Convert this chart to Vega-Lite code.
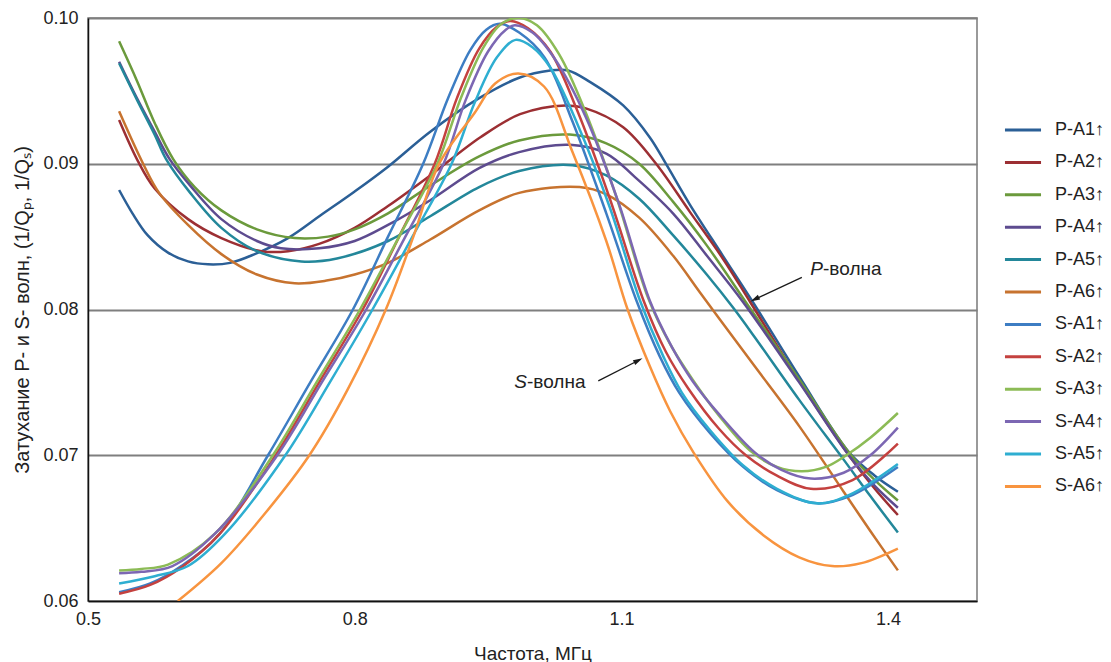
{
  "$schema": "https://vega.github.io/schema/vega-lite/v6.json",
  "width": 889,
  "height": 583,
  "autosize": {"type": "none"},
  "padding": {"left": 88, "top": 18, "right": 134, "bottom": 61},
  "background": "white",
  "config": {
    "font": "Liberation Sans",
    "view": {"stroke": "#7a7a7a", "strokeWidth": 1.5}
  },
  "datasets": {
    "curves": [
      {"s":"P-A1↑","f":0.535,"v":0.0882},{"s":"P-A1↑","f":0.55,"v":0.0866},{"s":"P-A1↑","f":0.567,"v":0.0851},{"s":"P-A1↑","f":0.59,"v":0.0839},{"s":"P-A1↑","f":0.6125,"v":0.0833},{"s":"P-A1↑","f":0.635,"v":0.0831},{"s":"P-A1↑","f":0.66,"v":0.0832},{"s":"P-A1↑","f":0.6875,"v":0.0838},{"s":"P-A1↑","f":0.725,"v":0.0849},{"s":"P-A1↑","f":0.7625,"v":0.0865},{"s":"P-A1↑","f":0.8,"v":0.0881},{"s":"P-A1↑","f":0.8375,"v":0.0898},{"s":"P-A1↑","f":0.885,"v":0.0922},{"s":"P-A1↑","f":0.94,"v":0.0945},{"s":"P-A1↑","f":0.985,"v":0.0959},{"s":"P-A1↑","f":1.02,"v":0.0964},{"s":"P-A1↑","f":1.04,"v":0.0964},{"s":"P-A1↑","f":1.065,"v":0.0956},{"s":"P-A1↑","f":1.102,"v":0.0940},{"s":"P-A1↑","f":1.132,"v":0.0918},{"s":"P-A1↑","f":1.151,"v":0.0899},{"s":"P-A1↑","f":1.177,"v":0.0872},{"s":"P-A1↑","f":1.214,"v":0.0837},{"s":"P-A1↑","f":1.248,"v":0.0805},{"s":"P-A1↑","f":1.3,"v":0.0754},{"s":"P-A1↑","f":1.356,"v":0.0702},{"s":"P-A1↑","f":1.385,"v":0.0686},{"s":"P-A1↑","f":1.411,"v":0.0675},

      {"s":"P-A2↑","f":0.535,"v":0.0930},{"s":"P-A2↑","f":0.556,"v":0.0902},{"s":"P-A2↑","f":0.575,"v":0.0883},{"s":"P-A2↑","f":0.6125,"v":0.0862},{"s":"P-A2↑","f":0.65,"v":0.0849},{"s":"P-A2↑","f":0.695,"v":0.0840},{"s":"P-A2↑","f":0.725,"v":0.0840},{"s":"P-A2↑","f":0.76,"v":0.0845},{"s":"P-A2↑","f":0.8,"v":0.0856},{"s":"P-A2↑","f":0.8375,"v":0.0871},{"s":"P-A2↑","f":0.885,"v":0.0892},{"s":"P-A2↑","f":0.941,"v":0.0918},{"s":"P-A2↑","f":0.986,"v":0.0934},{"s":"P-A2↑","f":1.037,"v":0.0940},{"s":"P-A2↑","f":1.06,"v":0.0938},{"s":"P-A2↑","f":1.102,"v":0.0925},{"s":"P-A2↑","f":1.139,"v":0.0900},{"s":"P-A2↑","f":1.177,"v":0.0867},{"s":"P-A2↑","f":1.214,"v":0.0835},{"s":"P-A2↑","f":1.245,"v":0.0805},{"s":"P-A2↑","f":1.3,"v":0.0751},{"s":"P-A2↑","f":1.357,"v":0.0699},{"s":"P-A2↑","f":1.385,"v":0.0677},{"s":"P-A2↑","f":1.411,"v":0.0659},

      {"s":"P-A3↑","f":0.535,"v":0.0984},{"s":"P-A3↑","f":0.555,"v":0.0957},{"s":"P-A3↑","f":0.575,"v":0.0928},{"s":"P-A3↑","f":0.596,"v":0.0903},{"s":"P-A3↑","f":0.62,"v":0.0884},{"s":"P-A3↑","f":0.65,"v":0.0868},{"s":"P-A3↑","f":0.69,"v":0.0855},{"s":"P-A3↑","f":0.7325,"v":0.0849},{"s":"P-A3↑","f":0.77,"v":0.0850},{"s":"P-A3↑","f":0.8,"v":0.0855},{"s":"P-A3↑","f":0.8375,"v":0.0866},{"s":"P-A3↑","f":0.885,"v":0.0885},{"s":"P-A3↑","f":0.94,"v":0.0905},{"s":"P-A3↑","f":0.985,"v":0.0916},{"s":"P-A3↑","f":1.042,"v":0.0920},{"s":"P-A3↑","f":1.083,"v":0.0914},{"s":"P-A3↑","f":1.12,"v":0.0900},{"s":"P-A3↑","f":1.158,"v":0.0874},{"s":"P-A3↑","f":1.196,"v":0.0844},{"s":"P-A3↑","f":1.24,"v":0.0805},{"s":"P-A3↑","f":1.3,"v":0.0752},{"s":"P-A3↑","f":1.357,"v":0.0701},{"s":"P-A3↑","f":1.385,"v":0.0683},{"s":"P-A3↑","f":1.411,"v":0.0669},

      {"s":"P-A4↑","f":0.535,"v":0.0970},{"s":"P-A4↑","f":0.555,"v":0.0945},{"s":"P-A4↑","f":0.575,"v":0.0922},{"s":"P-A4↑","f":0.592,"v":0.0903},{"s":"P-A4↑","f":0.615,"v":0.0885},{"s":"P-A4↑","f":0.65,"v":0.0862},{"s":"P-A4↑","f":0.69,"v":0.0847},{"s":"P-A4↑","f":0.717,"v":0.0842},{"s":"P-A4↑","f":0.76,"v":0.0842},{"s":"P-A4↑","f":0.8,"v":0.0847},{"s":"P-A4↑","f":0.8375,"v":0.0858},{"s":"P-A4↑","f":0.885,"v":0.0875},{"s":"P-A4↑","f":0.94,"v":0.0897},{"s":"P-A4↑","f":0.985,"v":0.0908},{"s":"P-A4↑","f":1.042,"v":0.0913},{"s":"P-A4↑","f":1.083,"v":0.0907},{"s":"P-A4↑","f":1.115,"v":0.0891},{"s":"P-A4↑","f":1.158,"v":0.0866},{"s":"P-A4↑","f":1.196,"v":0.0837},{"s":"P-A4↑","f":1.237,"v":0.0805},{"s":"P-A4↑","f":1.3,"v":0.0750},{"s":"P-A4↑","f":1.357,"v":0.0699},{"s":"P-A4↑","f":1.385,"v":0.0679},{"s":"P-A4↑","f":1.411,"v":0.0664},

      {"s":"P-A5↑","f":0.535,"v":0.0969},{"s":"P-A5↑","f":0.555,"v":0.0944},{"s":"P-A5↑","f":0.575,"v":0.0920},{"s":"P-A5↑","f":0.588,"v":0.0903},{"s":"P-A5↑","f":0.615,"v":0.0880},{"s":"P-A5↑","f":0.65,"v":0.0856},{"s":"P-A5↑","f":0.69,"v":0.0840},{"s":"P-A5↑","f":0.74,"v":0.0833},{"s":"P-A5↑","f":0.78,"v":0.0835},{"s":"P-A5↑","f":0.8375,"v":0.0847},{"s":"P-A5↑","f":0.885,"v":0.0864},{"s":"P-A5↑","f":0.94,"v":0.0884},{"s":"P-A5↑","f":0.985,"v":0.0895},{"s":"P-A5↑","f":1.045,"v":0.0899},{"s":"P-A5↑","f":1.083,"v":0.0892},{"s":"P-A5↑","f":1.12,"v":0.0876},{"s":"P-A5↑","f":1.158,"v":0.0851},{"s":"P-A5↑","f":1.196,"v":0.0824},{"s":"P-A5↑","f":1.226,"v":0.0801},{"s":"P-A5↑","f":1.25,"v":0.0781},{"s":"P-A5↑","f":1.3,"v":0.0738},{"s":"P-A5↑","f":1.35,"v":0.0697},{"s":"P-A5↑","f":1.38,"v":0.0672},{"s":"P-A5↑","f":1.411,"v":0.0647},

      {"s":"P-A6↑","f":0.535,"v":0.0936},{"s":"P-A6↑","f":0.562,"v":0.0900},{"s":"P-A6↑","f":0.58,"v":0.0880},{"s":"P-A6↑","f":0.6125,"v":0.0858},{"s":"P-A6↑","f":0.65,"v":0.0838},{"s":"P-A6↑","f":0.69,"v":0.0824},{"s":"P-A6↑","f":0.7325,"v":0.0818},{"s":"P-A6↑","f":0.77,"v":0.0820},{"s":"P-A6↑","f":0.8,"v":0.0824},{"s":"P-A6↑","f":0.8375,"v":0.0832},{"s":"P-A6↑","f":0.885,"v":0.0848},{"s":"P-A6↑","f":0.94,"v":0.0868},{"s":"P-A6↑","f":0.985,"v":0.0880},{"s":"P-A6↑","f":1.053,"v":0.0884},{"s":"P-A6↑","f":1.083,"v":0.0879},{"s":"P-A6↑","f":1.12,"v":0.0863},{"s":"P-A6↑","f":1.158,"v":0.0837},{"s":"P-A6↑","f":1.188,"v":0.0812},{"s":"P-A6↑","f":1.211,"v":0.0793},{"s":"P-A6↑","f":1.25,"v":0.0761},{"s":"P-A6↑","f":1.3,"v":0.0720},{"s":"P-A6↑","f":1.35,"v":0.0675},{"s":"P-A6↑","f":1.38,"v":0.0648},{"s":"P-A6↑","f":1.411,"v":0.0621},

      {"s":"S-A1↑","f":0.535,"v":0.0606},{"s":"S-A1↑","f":0.57,"v":0.0612},{"s":"S-A1↑","f":0.605,"v":0.0624},{"s":"S-A1↑","f":0.648,"v":0.0646},{"s":"S-A1↑","f":0.7025,"v":0.0700},{"s":"S-A1↑","f":0.75,"v":0.0750},{"s":"S-A1↑","f":0.798,"v":0.0800},{"s":"S-A1↑","f":0.8375,"v":0.0850},{"s":"S-A1↑","f":0.877,"v":0.0900},{"s":"S-A1↑","f":0.905,"v":0.0945},{"s":"S-A1↑","f":0.93,"v":0.0978},{"s":"S-A1↑","f":0.948,"v":0.0992},{"s":"S-A1↑","f":0.963,"v":0.0996},{"s":"S-A1↑","f":0.985,"v":0.0990},{"s":"S-A1↑","f":1.0135,"v":0.0973},{"s":"S-A1↑","f":1.045,"v":0.0929},{"s":"S-A1↑","f":1.083,"v":0.0866},{"s":"S-A1↑","f":1.117,"v":0.0806},{"s":"S-A1↑","f":1.143,"v":0.0768},{"s":"S-A1↑","f":1.165,"v":0.0743},{"s":"S-A1↑","f":1.2,"v":0.0715},{"s":"S-A1↑","f":1.237,"v":0.0692},{"s":"S-A1↑","f":1.275,"v":0.0676},{"s":"S-A1↑","f":1.32,"v":0.0667},{"s":"S-A1↑","f":1.357,"v":0.0672},{"s":"S-A1↑","f":1.411,"v":0.0692},

      {"s":"S-A2↑","f":0.535,"v":0.0605},{"s":"S-A2↑","f":0.57,"v":0.0611},{"s":"S-A2↑","f":0.605,"v":0.0623},{"s":"S-A2↑","f":0.648,"v":0.0646},{"s":"S-A2↑","f":0.711,"v":0.0700},{"s":"S-A2↑","f":0.76,"v":0.0750},{"s":"S-A2↑","f":0.809,"v":0.0800},{"s":"S-A2↑","f":0.85,"v":0.0850},{"s":"S-A2↑","f":0.89,"v":0.0900},{"s":"S-A2↑","f":0.915,"v":0.0945},{"s":"S-A2↑","f":0.94,"v":0.0979},{"s":"S-A2↑","f":0.96,"v":0.0994},{"s":"S-A2↑","f":0.975,"v":0.0998},{"s":"S-A2↑","f":0.995,"v":0.0993},{"s":"S-A2↑","f":1.02,"v":0.0977},{"s":"S-A2↑","f":1.05,"v":0.0937},{"s":"S-A2↑","f":1.087,"v":0.0876},{"s":"S-A2↑","f":1.125,"v":0.0806},{"s":"S-A2↑","f":1.15,"v":0.0771},{"s":"S-A2↑","f":1.175,"v":0.0746},{"s":"S-A2↑","f":1.21,"v":0.0718},{"s":"S-A2↑","f":1.24,"v":0.0700},{"s":"S-A2↑","f":1.275,"v":0.0686},{"s":"S-A2↑","f":1.313,"v":0.0677},{"s":"S-A2↑","f":1.36,"v":0.0683},{"s":"S-A2↑","f":1.411,"v":0.0708},

      {"s":"S-A3↑","f":0.535,"v":0.0621},{"s":"S-A3↑","f":0.56,"v":0.0622},{"s":"S-A3↑","f":0.59,"v":0.0625},{"s":"S-A3↑","f":0.6425,"v":0.0646},{"s":"S-A3↑","f":0.708,"v":0.0700},{"s":"S-A3↑","f":0.757,"v":0.0750},{"s":"S-A3↑","f":0.806,"v":0.0800},{"s":"S-A3↑","f":0.85,"v":0.0850},{"s":"S-A3↑","f":0.893,"v":0.0900},{"s":"S-A3↑","f":0.92,"v":0.0946},{"s":"S-A3↑","f":0.945,"v":0.0980},{"s":"S-A3↑","f":0.965,"v":0.0996},{"s":"S-A3↑","f":0.985,"v":0.1000},{"s":"S-A3↑","f":1.005,"v":0.0995},{"s":"S-A3↑","f":1.03,"v":0.0975},{"s":"S-A3↑","f":1.06,"v":0.0935},{"s":"S-A3↑","f":1.095,"v":0.0876},{"s":"S-A3↑","f":1.13,"v":0.0808},{"s":"S-A3↑","f":1.155,"v":0.0776},{"s":"S-A3↑","f":1.18,"v":0.0752},{"s":"S-A3↑","f":1.21,"v":0.0727},{"s":"S-A3↑","f":1.245,"v":0.0703},{"s":"S-A3↑","f":1.275,"v":0.0692},{"s":"S-A3↑","f":1.303,"v":0.0689},{"s":"S-A3↑","f":1.33,"v":0.0692},{"s":"S-A3↑","f":1.353,"v":0.0700},{"s":"S-A3↑","f":1.38,"v":0.0712},{"s":"S-A3↑","f":1.411,"v":0.0729},

      {"s":"S-A4↑","f":0.535,"v":0.0619},{"s":"S-A4↑","f":0.56,"v":0.0620},{"s":"S-A4↑","f":0.595,"v":0.0624},{"s":"S-A4↑","f":0.6425,"v":0.0646},{"s":"S-A4↑","f":0.713,"v":0.0700},{"s":"S-A4↑","f":0.763,"v":0.0750},{"s":"S-A4↑","f":0.813,"v":0.0800},{"s":"S-A4↑","f":0.857,"v":0.0850},{"s":"S-A4↑","f":0.9,"v":0.0900},{"s":"S-A4↑","f":0.925,"v":0.0944},{"s":"S-A4↑","f":0.95,"v":0.0977},{"s":"S-A4↑","f":0.97,"v":0.0992},{"s":"S-A4↑","f":0.98,"v":0.0995},{"s":"S-A4↑","f":1.0,"v":0.0990},{"s":"S-A4↑","f":1.025,"v":0.0972},{"s":"S-A4↑","f":1.06,"v":0.0932},{"s":"S-A4↑","f":1.097,"v":0.0873},{"s":"S-A4↑","f":1.132,"v":0.0806},{"s":"S-A4↑","f":1.157,"v":0.0774},{"s":"S-A4↑","f":1.18,"v":0.0751},{"s":"S-A4↑","f":1.21,"v":0.0728},{"s":"S-A4↑","f":1.25,"v":0.0702},{"s":"S-A4↑","f":1.28,"v":0.0690},{"s":"S-A4↑","f":1.313,"v":0.0684},{"s":"S-A4↑","f":1.35,"v":0.0688},{"s":"S-A4↑","f":1.38,"v":0.0700},{"s":"S-A4↑","f":1.411,"v":0.0719},

      {"s":"S-A5↑","f":0.535,"v":0.0612},{"s":"S-A5↑","f":0.575,"v":0.0617},{"s":"S-A5↑","f":0.6125,"v":0.0624},{"s":"S-A5↑","f":0.654,"v":0.0646},{"s":"S-A5↑","f":0.722,"v":0.0700},{"s":"S-A5↑","f":0.772,"v":0.0750},{"s":"S-A5↑","f":0.82,"v":0.0800},{"s":"S-A5↑","f":0.865,"v":0.0850},{"s":"S-A5↑","f":0.909,"v":0.0900},{"s":"S-A5↑","f":0.935,"v":0.0942},{"s":"S-A5↑","f":0.96,"v":0.0973},{"s":"S-A5↑","f":0.981,"v":0.0985},{"s":"S-A5↑","f":1.0,"v":0.0980},{"s":"S-A5↑","f":1.02,"v":0.0966},{"s":"S-A5↑","f":1.05,"v":0.0928},{"s":"S-A5↑","f":1.087,"v":0.0870},{"s":"S-A5↑","f":1.121,"v":0.0806},{"s":"S-A5↑","f":1.147,"v":0.0768},{"s":"S-A5↑","f":1.168,"v":0.0743},{"s":"S-A5↑","f":1.2,"v":0.0717},{"s":"S-A5↑","f":1.237,"v":0.0693},{"s":"S-A5↑","f":1.275,"v":0.0677},{"s":"S-A5↑","f":1.32,"v":0.0667},{"s":"S-A5↑","f":1.357,"v":0.0673},{"s":"S-A5↑","f":1.411,"v":0.0694},

      {"s":"S-A6↑","f":0.601,"v":0.0600},{"s":"S-A6↑","f":0.65,"v":0.0626},{"s":"S-A6↑","f":0.699,"v":0.0660},{"s":"S-A6↑","f":0.749,"v":0.0700},{"s":"S-A6↑","f":0.792,"v":0.0745},{"s":"S-A6↑","f":0.835,"v":0.0800},{"s":"S-A6↑","f":0.866,"v":0.0850},{"s":"S-A6↑","f":0.895,"v":0.0900},{"s":"S-A6↑","f":0.935,"v":0.0935},{"s":"S-A6↑","f":0.958,"v":0.0955},{"s":"S-A6↑","f":0.984,"v":0.0962},{"s":"S-A6↑","f":1.013,"v":0.0953},{"s":"S-A6↑","f":1.045,"v":0.0908},{"s":"S-A6↑","f":1.083,"v":0.0847},{"s":"S-A6↑","f":1.107,"v":0.0800},{"s":"S-A6↑","f":1.132,"v":0.0761},{"s":"S-A6↑","f":1.155,"v":0.0730},{"s":"S-A6↑","f":1.181,"v":0.0702},{"s":"S-A6↑","f":1.22,"v":0.0668},{"s":"S-A6↑","f":1.26,"v":0.0645},{"s":"S-A6↑","f":1.3,"v":0.0630},{"s":"S-A6↑","f":1.337,"v":0.0624},{"s":"S-A6↑","f":1.37,"v":0.0626},{"s":"S-A6↑","f":1.411,"v":0.0636}
    ],
    "notes": [
      {"lead": "P", "rest": "-волна", "f": 1.3268, "v": 0.0828},
      {"lead": "S", "rest": "-волна", "f": 0.9938, "v": 0.0750}
    ],
    "arrows": [
      {"name": "P", "f1": 1.303, "v1": 0.0822, "f2": 1.25, "v2": 0.0807},
      {"name": "S", "f1": 1.074, "v1": 0.0751, "f2": 1.119, "v2": 0.0765}
    ]
  },
  "layer": [
    {
      "data": {"name": "curves"},
      "mark": {"type": "line", "interpolate": "catmull-rom", "strokeWidth": 2.5, "clip": true},
      "encoding": {
        "x": {
          "field": "f", "type": "quantitative",
          "scale": {"domain": [0.5, 1.5], "nice": false, "zero": false},
          "axis": {
            "values": [0.5, 0.8, 1.1, 1.4], "format": ".1f", "grid": false, "ticks": false,
            "labelFlush": false,
            "domainColor": "#111", "domainWidth": 1.5,
            "labelFontSize": 18, "labelColor": "#222", "labelPadding": 9,
            "title": "Частота, МГц", "titleFontSize": 19, "titleFontWeight": "normal",
            "titleColor": "#222", "titlePadding": 16
          }
        },
        "y": {
          "field": "v", "type": "quantitative",
          "scale": {"domain": [0.06, 0.1], "nice": false, "zero": false},
          "axis": {
            "values": [0.06, 0.07, 0.08, 0.09, 0.1], "format": ".2f", "grid": true,
            "labelFlush": false,
            "gridColor": "#7f7f7f", "gridWidth": 2, "ticks": false,
            "domainColor": "#111", "domainWidth": 1.5,
            "labelFontSize": 18, "labelColor": "#222", "labelPadding": 10,
            "title": "Затухание P- и S- волн, (1/Qₚ, 1/Qₛ)", "titleFontSize": 20,
            "titleFontWeight": "normal", "titleColor": "#222", "titlePadding": 10
          }
        },
        "color": {
          "field": "s", "type": "nominal",
          "scale": {
            "domain": ["P-A1↑","P-A2↑","P-A3↑","P-A4↑","P-A5↑","P-A6↑","S-A1↑","S-A2↑","S-A3↑","S-A4↑","S-A5↑","S-A6↑"],
            "range": ["#2b5f96","#9c2f33","#6b9a3c","#5d4b8f","#23879a","#c7732f","#3d7dc3","#c4413f","#8cbb56","#7c67b3","#2eaed1","#f8943f"]
          },
          "legend": {
            "orient": "none", "legendX": 915, "legendY": 92, "title": null,
            "symbolType": "stroke", "symbolStrokeWidth": 3, "symbolSize": 1300,
            "labelFontSize": 18, "labelColor": "#222", "labelOffset": 12,
            "rowPadding": 3.4, "padding": 0
          }
        }
      }
    },
    {
      "data": {"name": "arrows"},
      "mark": {"type": "rule", "color": "#1a1a1a", "strokeWidth": 1.3},
      "encoding": {
        "x": {"field": "f1", "type": "quantitative"},
        "y": {"field": "v1", "type": "quantitative"},
        "x2": {"field": "f2"},
        "y2": {"field": "v2"}
      }
    },
    {
      "data": {"name": "arrows"},
      "transform": [{"filter": "datum.name == 'P'"}],
      "mark": {"type": "point", "shape": "M0,-1L0.55,1L-0.55,1Z", "filled": true, "color": "#1a1a1a", "size": 90, "angle": 244, "opacity": 1},
      "encoding": {
        "x": {"field": "f2", "type": "quantitative"},
        "y": {"field": "v2", "type": "quantitative"}
      }
    },
    {
      "data": {"name": "arrows"},
      "transform": [{"filter": "datum.name == 'S'"}],
      "mark": {"type": "point", "shape": "M0,-1L0.55,1L-0.55,1Z", "filled": true, "color": "#1a1a1a", "size": 90, "angle": 63, "opacity": 1},
      "encoding": {
        "x": {"field": "f2", "type": "quantitative"},
        "y": {"field": "v2", "type": "quantitative"}
      }
    },
    {
      "data": {"name": "notes"},
      "mark": {"type": "text", "align": "right", "baseline": "middle", "fontSize": 19, "fontStyle": "italic", "color": "#222"},
      "encoding": {
        "x": {"field": "f", "type": "quantitative"},
        "y": {"field": "v", "type": "quantitative"},
        "text": {"field": "lead"}
      }
    },
    {
      "data": {"name": "notes"},
      "mark": {"type": "text", "align": "left", "baseline": "middle", "fontSize": 19, "color": "#222"},
      "encoding": {
        "x": {"field": "f", "type": "quantitative"},
        "y": {"field": "v", "type": "quantitative"},
        "text": {"field": "rest"}
      }
    }
  ]
}
